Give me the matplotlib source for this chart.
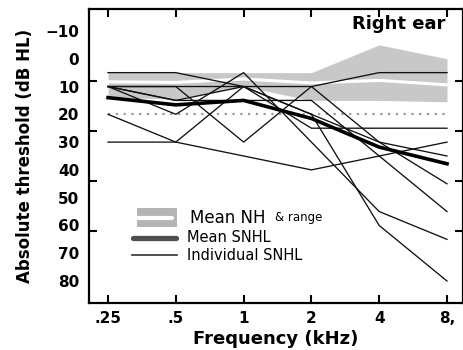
import matplotlib
matplotlib.use("Agg")
import matplotlib.pyplot as plt
from matplotlib.lines import Line2D
from matplotlib.patches import Rectangle

# audiometric frequencies (kHz) and labels
freqs = [0.25, 0.5, 1, 2, 4, 8]
freq_labels = [".25", ".5", "1", "2", "4", "8,"]

# normal-hearing mean and range (dB HL)
nh_mean = [8.3, 8.5, 7.3, 8.7, 7.8, 9.4]
nh_min = [5, 5, 5, 5, -5, 0]
nh_max = [14, 14.5, 10, 15, 15, 15.5]

# mean SNHL thresholds
snhl_mean = [14, 16.6, 15, 21.5, 31.8, 37.8]

# individual SNHL listeners
snhl_1 = [5, 5, 10, 25, 25, 25]
snhl_2 = [10, 10, 10, 10, 5, 5]
snhl_3 = [10, 10, 30, 10, 30, 45]
snhl_4 = [10, 15, 15, 15, 35, 55]
snhl_5 = [10, 15, 10, 20, 60, 80]
snhl_6 = [10, 20, 5, 30, 55, 65]
snhl_7 = [20, 30, 35, 40, 35, 30]
snhl_8 = [30, 30, 10, 20, 30, 35]
individuals = [snhl_1, snhl_2, snhl_3, snhl_4, snhl_5, snhl_6, snhl_7, snhl_8]

y_labels = list(range(-10, 90, 10))
y_marks = [-10, 8, 26, 44, 62, 80]
criterion = 20

fig = plt.figure(figsize=(4.64, 3.5), dpi=100)
ax = fig.add_axes([0.1918, 0.1351, 0.806, 0.8392])

ax.fill_between(freqs, nh_min, nh_max, color="#c8c8c8", lw=0, zorder=1)
ax.plot(freqs, nh_mean, color="white", lw=2.2, zorder=2)
ax.plot([freqs[0], freqs[-1]], [criterion, criterion], color="#999999",
        lw=1.6, linestyle=(0, (1, 2.5)), zorder=2)
for vals in individuals:
    ax.plot(freqs, vals, color="#111111", lw=0.95, zorder=3)
ax.plot(freqs, snhl_mean, color="black", lw=2.6, zorder=4)

ax.set_xscale("log", base=2)
ax.set_xlim(0.2058, 9.42)
ax.set_ylim(87.8, -17.9)
ax.set_xticks(freqs)
ax.set_xticklabels(freq_labels)
ax.xaxis.set_minor_locator(plt.NullLocator())
ax.set_yticks(y_labels)
ax.set_yticklabels([str(v).replace("-", "\u2212") for v in y_labels])
ax.set_yticks(y_marks, minor=True)

ax.tick_params(axis="x", which="major", direction="in", length=6, width=1.5,
               top=True, bottom=True, pad=6, labelsize=11)
ax.tick_params(axis="y", which="major", length=0, pad=7, labelsize=11)
ax.tick_params(axis="y", which="minor", direction="in", length=6, width=1.5,
               left=True, right=True)
for lab in ax.get_xticklabels() + ax.get_yticklabels():
    lab.set_fontweight("bold")
for sp in ax.spines.values():
    sp.set_linewidth(1.6)

ax.set_xlabel("Frequency (kHz)", fontsize=13, fontweight="bold", labelpad=3)
ax.set_ylabel("Absolute threshold (dB HL)", fontsize=12, fontweight="bold",
              labelpad=8)

ax.text(0.952, 0.949, "Right ear", transform=ax.transAxes, ha="right",
        va="center", fontsize=13, fontweight="bold")

# hand-made legend in axes fraction
tr = ax.transAxes
ax.add_patch(Rectangle((0.128, 0.258), 0.107, 0.064, transform=tr,
                       color="#b4b4b4", lw=0, zorder=5))
ax.add_line(Line2D([0.128, 0.222], [0.289, 0.289], transform=tr, color="white",
                   lw=3, solid_capstyle="round", zorder=6))
t1 = ax.text(0.27, 0.289, "Mean NH", transform=tr, ha="left", va="center",
             fontsize=12, zorder=6)
ax.annotate("& range", xy=(1, 0.5), xycoords=t1, xytext=(7, 0),
            textcoords="offset points", ha="left", va="center", fontsize=8.5)
ax.add_line(Line2D([0.118, 0.232], [0.221, 0.221], transform=tr,
                   color="#505050", lw=3.8, solid_capstyle="round", zorder=6))
ax.text(0.262, 0.222, "Mean SNHL", transform=tr, ha="left", va="center",
        fontsize=10.5)
ax.add_line(Line2D([0.115, 0.235], [0.162, 0.162], transform=tr,
                   color="#333333", lw=1.2, zorder=6))
ax.text(0.262, 0.162, "Individual SNHL", transform=tr, ha="left", va="center",
        fontsize=10.5)

fig.savefig("out.png", dpi=100)
